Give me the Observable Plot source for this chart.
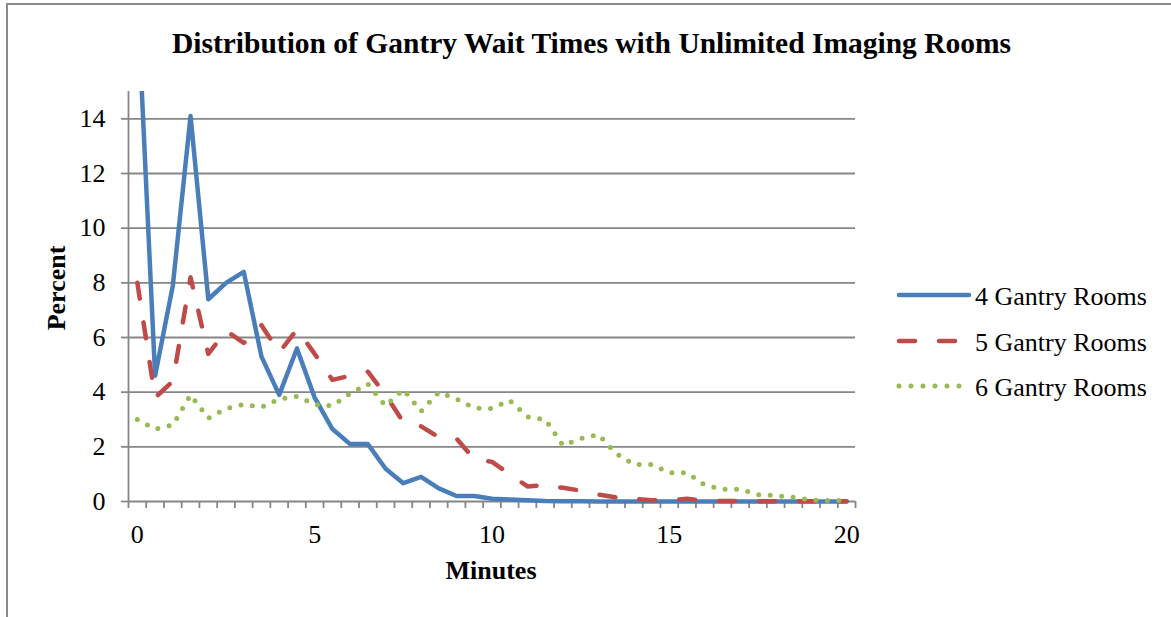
<!DOCTYPE html>
<html>
<head>
<meta charset="utf-8">
<script src="https://cdn.jsdelivr.net/npm/d3@7"></script>
<script src="https://cdn.jsdelivr.net/npm/@observablehq/plot@0.6"></script>
<style>
  html, body { margin: 0; padding: 0; background: #fff; }
  #wrap { position: relative; width: 1171px; height: 617px; overflow: hidden; font-family: "Liberation Serif", "Times New Roman", serif; color: #000; }
  #border { position: absolute; left: 6px; top: 3px; width: 2000px; height: 2000px; border-left: 2px solid #8a8a8a; border-top: 2px solid #8a8a8a; }
  .txt { position: absolute; white-space: nowrap; line-height: 1; }
  #chart { position: absolute; left: 0; top: 0; }
  .leg { position: absolute; left: 896px; white-space: nowrap; font-size: 26px; line-height: 1; }
  .leg svg { vertical-align: middle; }
</style>
</head>
<body>
<div id="wrap">
  <div id="border"></div>
  <div id="chart"></div>
</div>
<script>
// ---- data ----
const minutes = [0, 0.5, 1, 1.5, 2, 2.5, 3, 3.5, 4, 4.5, 5, 5.5, 6, 6.5, 7, 7.5, 8, 8.5, 9, 9.5, 10,
                 10.5, 11, 11.5, 12, 12.5, 13, 13.5, 14, 14.5, 15, 15.5, 16, 16.5, 17, 17.5, 18, 18.5, 19, 19.5, 20];
const rooms4 = [18.5, 4.6, 7.9, 14.1, 7.4, 8.0, 8.4, 5.3, 3.9, 5.6, 3.8, 2.65, 2.1, 2.1, 1.2, 0.67, 0.9, 0.48, 0.2, 0.2, 0.1,
                0.07, 0.05, 0.02, 0.01, 0.01, 0, 0, 0, 0, 0, 0, 0, 0, 0, 0, 0, 0, 0, 0, 0];
const rooms5 = [8.0, 3.8, 4.4, 8.2, 5.4, 6.25, 5.8, 6.45, 5.45, 6.3, 5.4, 4.45, 4.6, 4.75, 3.9, 2.9, 2.75, 2.35, 2.3, 1.55, 1.45,
                1.0, 0.55, 0.6, 0.5, 0.4, 0.25, 0.15, 0.1, 0.05, 0.05, 0.1, 0.03, 0.02, 0.02, 0.01, 0.01, 0.01, 0.01, 0.01, 0.01];
const rooms6 = [3.0, 2.65, 2.8, 3.9, 3.05, 3.4, 3.55, 3.45, 3.75, 3.85, 3.55, 3.5, 3.95, 4.3, 3.5, 4.1, 3.3, 4.0, 3.75, 3.42, 3.4,
                3.7, 3.1, 3.0, 2.05, 2.3, 2.45, 1.75, 1.35, 1.35, 1.05, 1.05, 0.6, 0.45, 0.45, 0.25, 0.22, 0.15, 0.05, 0.04, 0.03];
const seriesNames = ["4 Gantry Rooms", "5 Gantry Rooms", "6 Gantry Rooms"];
const seriesColors = ["#4a7ebb", "#be4b48", "#98b954"];
const yTicks = [0, 2, 4, 6, 8, 10, 12, 14];
const xLabels = [0, 5, 10, 15, 20];
const xTickMarks = [-0.25, 0.25, 0.75, 1.25, 1.75, 2.25, 2.75, 3.25, 3.75, 4.25, 4.75, 5.25, 5.75, 6.25, 6.75, 7.25, 7.75,
                    8.25, 8.75, 9.25, 9.75, 10.25, 10.75, 11.25, 11.75, 12.25, 12.75, 13.25, 13.75, 14.25, 14.75, 15.25,
                    15.75, 16.25, 16.75, 17.25, 17.75, 18.25, 18.75, 19.25, 19.75, 20.25];
const titleText = "Distribution of Gantry Wait Times with Unlimited Imaging Rooms";
const xTitle = "Minutes";
const yTitle = "Percent";

const table = (vals) => minutes.map((m, i) => ({minute: m, value: vals[i]}));
const gridCol = "#868686";
const lw = 4.5;

const svg = Plot.plot({
  width: 1171,
  height: 617,
  marginLeft: 128,
  marginRight: 316,
  marginTop: 91,
  marginBottom: 116,
  x: {domain: [-0.25, 20.25]},
  y: {domain: [0, 15]},
  style: {fontFamily: "'Liberation Serif', 'Times New Roman', serif", fontSize: "26px", color: "#000", background: "transparent", overflow: "visible"},
  marks: [
    Plot.gridY(yTicks.filter(d => d > 0), {stroke: gridCol, strokeOpacity: 1, strokeWidth: 1.8}),
    Plot.ruleY([0], {stroke: gridCol, strokeWidth: 1.8}),
    Plot.ruleX([-0.25], {stroke: gridCol, strokeWidth: 1.8}),
    Plot.axisY(yTicks, {tickSize: 7, tickPadding: 16, stroke: gridCol, strokeWidth: 1.8, strokeOpacity: 1, fill: "#000", label: null}),
    Plot.axisX(xTickMarks, {tickSize: 7, tickFormat: () => "", stroke: gridCol, strokeWidth: 1.8, strokeOpacity: 1, label: null}),
    Plot.axisX(xLabels, {tickSize: 0, tickPadding: 23, fill: "#000", label: null}),
    Plot.lineY(table(rooms4), {x: "minute", y: "value", stroke: seriesColors[0], strokeWidth: lw, strokeLinejoin: "round", strokeLinecap: "round", clip: true}),
    Plot.lineY(table(rooms5), {x: "minute", y: "value", stroke: seriesColors[1], strokeWidth: lw, strokeLinejoin: "round", strokeLinecap: "round", strokeDasharray: "16,24"}),
    Plot.lineY(table(rooms6), {x: "minute", y: "value", stroke: seriesColors[2], strokeWidth: 5, strokeLinejoin: "round", strokeLinecap: "round", strokeDasharray: "0,11.5"})
  ]
});
// let the clipped line keep its full width at the bottom edge (clip only the top)
svg.querySelectorAll("clipPath rect").forEach(r => {
  const h = +r.getAttribute("height");
  r.setAttribute("height", h + 12);
});
document.getElementById("chart").appendChild(svg);

const wrap = document.getElementById("wrap");
function addText(text, opts) {
  const d = document.createElement("div");
  d.className = "txt";
  d.textContent = text;
  Object.assign(d.style, opts);
  wrap.appendChild(d);
  return d;
}
// title (baseline ~53)
addText(titleText, {left: "0px", width: "1171px", textAlign: "center", top: "29px", fontSize: "29.5px", fontWeight: "bold", paddingLeft: "12px", boxSizing: "border-box"});
// x title (baseline ~580)
addText(xTitle, {left: "391px", width: "200px", textAlign: "center", top: "558px", fontSize: "26px", fontWeight: "bold"});
// y title rotated, centered at (57, 288)
const yt = addText(yTitle, {left: "-43px", width: "200px", textAlign: "center", top: "275px", fontSize: "26px", fontWeight: "bold", transform: "rotate(-90deg)", transformOrigin: "100px 13px"});

// legend
const dash = [null, "16,24", "0,12"];
const rowsY = [295, 340.5, 386];
seriesNames.forEach((name, i) => {
  const row = document.createElement("div");
  row.className = "leg";
  row.style.top = (rowsY[i] - 15) + "px";
  row.style.height = "30px";
  row.style.display = "flex";
  row.style.alignItems = "center";
  const s = d3.create("svg").attr("width", 78).attr("height", 30).style("display", "block");
  s.append("line").attr("x1", 3).attr("x2", i === 1 ? 72 : 73).attr("y1", 15).attr("y2", 15)
    .attr("stroke", seriesColors[i]).attr("stroke-width", i === 2 ? 5 : lw).attr("stroke-linecap", "round")
    .attr("stroke-dasharray", dash[i]);
  row.appendChild(s.node());
  const t = document.createElement("span");
  t.textContent = name;
  t.style.marginLeft = "1px";
  t.style.position = "relative";
  t.style.top = "2px";
  row.appendChild(t);
  wrap.appendChild(row);
});
</script>
</body>
</html>
